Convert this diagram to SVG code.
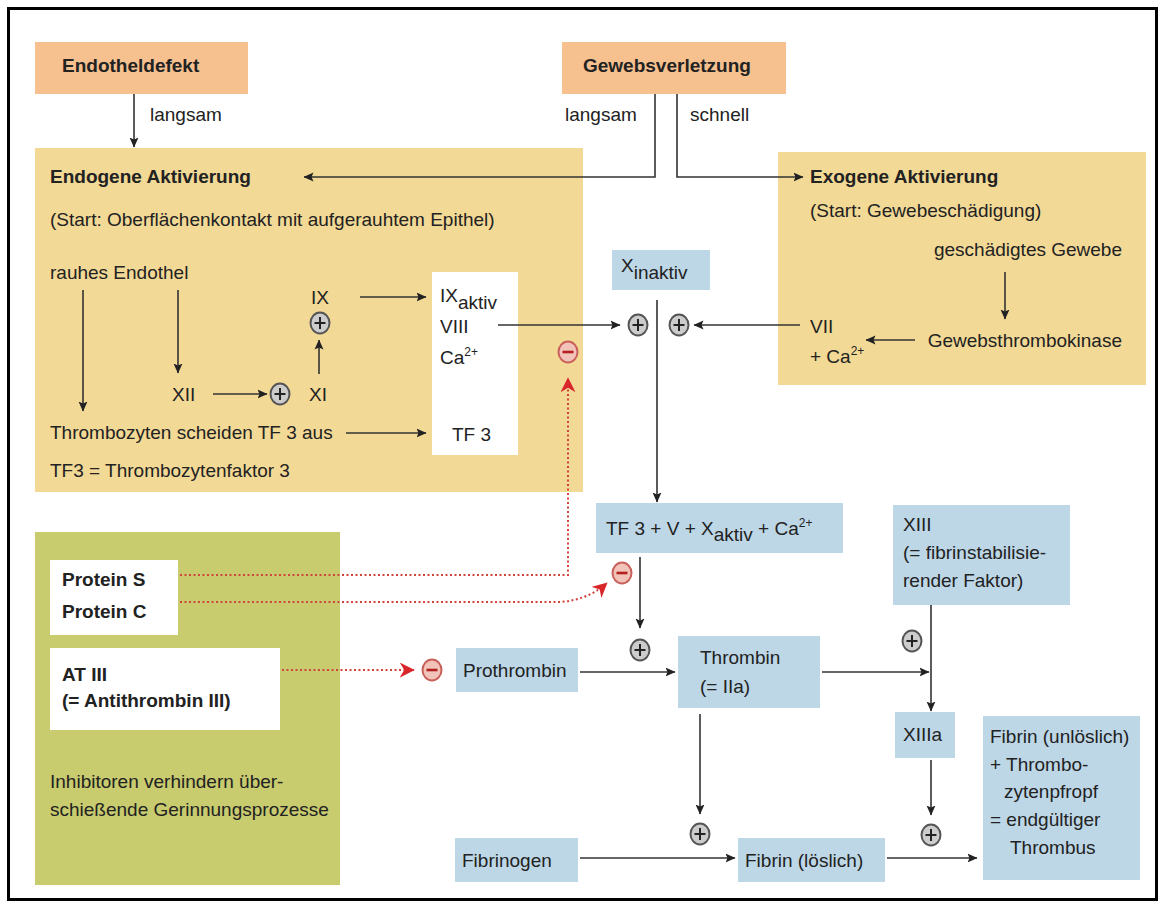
<svg xmlns="http://www.w3.org/2000/svg" width="1160" height="904" viewBox="0 0 1160 904">
<style>
text{font-family:"Liberation Sans",Arial,sans-serif;font-size:19px;fill:#222}
.b{font-weight:bold}
.peach{fill:#f6c08f}
.gold{fill:#f3d996}
.blue{fill:#bdd7e7}
.green{fill:#c8cb6e}
.white{fill:#ffffff}
.ln{stroke:#333;stroke-width:1.6;fill:none}
.red{stroke:#d2433c;stroke-width:2;fill:none;stroke-dasharray:2 2.5}
.pc{fill:#cccccc;stroke:#555;stroke-width:2}
.ps{stroke:#222;stroke-width:2}
.mc{fill:#f2c3b8;stroke:#c9605a;stroke-width:2}
.ms{stroke:#b3201f;stroke-width:2.6}
</style>
<defs>
<marker id="ah" viewBox="0 0 10 10" refX="9.5" refY="5" markerWidth="10" markerHeight="10" markerUnits="userSpaceOnUse" orient="auto">
<path d="M0,0.5 L10,5 L0,9.5 L2,5 z" fill="#222"/>
</marker>
<marker id="ahr" viewBox="0 0 10 10" refX="9.5" refY="5" markerWidth="15" markerHeight="15" markerUnits="userSpaceOnUse" orient="auto">
<path d="M0,0 L10,5 L0,10 L3,5 z" fill="#d9262a"/>
</marker>
<g id="plus"><ellipse rx="9.5" ry="10.5" class="pc"/><path d="M-5.5,0 H5.5 M0,-6 V6" class="ps"/></g>
<g id="minus"><ellipse rx="9.5" ry="10.5" class="mc"/><path d="M-5.5,0 H5.5" class="ms"/></g>
</defs>
<rect x="8.5" y="8.5" width="1148" height="891" fill="#fff" stroke="#000" stroke-width="3"/>

<g id="endotheldefekt"><rect x="35" y="42" width="213" height="52" class="peach"/><text x="62" y="72" class="b">Endotheldefekt</text></g>
<g id="gewebsverletzung"><rect x="562" y="42" width="224" height="52" class="peach"/><text x="583" y="72" class="b">Gewebsverletzung</text></g>

<g id="endogen">
<rect x="35" y="148" width="548" height="344" class="gold"/>
<text x="50" y="183" class="b">Endogene Aktivierung</text>
<text x="50" y="226">(Start: Oberflächenkontakt mit aufgerauhtem Epithel)</text>
<text x="50" y="279">rauhes Endothel</text>
<text x="311" y="304">IX</text>
<text x="172" y="401">XII</text>
<text x="309" y="401">XI</text>
<text x="50" y="439">Thrombozyten scheiden TF 3 aus</text>
<text x="50" y="477">TF3 = Thrombozytenfaktor 3</text>
</g>
<g id="factor-box">
<rect x="432" y="272" width="86" height="183" class="white"/>
<text x="440" y="302">IX<tspan dy="7">aktiv</tspan></text>
<text x="440" y="333">VIII</text>
<text x="440" y="364">Ca<tspan font-size="12" dy="-8">2+</tspan></text>
<text x="452" y="441">TF 3</text>
</g>

<g id="exogen">
<rect x="778" y="152" width="368" height="233" class="gold"/>
<text x="810" y="183" class="b">Exogene Aktivierung</text>
<text x="810" y="217">(Start: Gewebeschädigung)</text>
<text x="1122" y="256" text-anchor="end">geschädigtes Gewebe</text>
<text x="1122" y="347" text-anchor="end">Gewebsthrombokinase</text>
<text x="810" y="333">VII</text>
<text x="810" y="363">+ Ca<tspan font-size="12" dy="-8">2+</tspan></text>
</g>

<g id="x-inaktiv"><rect x="612" y="250" width="98" height="40" class="blue"/><text x="621" y="272">X<tspan dy="7">inaktiv</tspan></text></g>
<g id="tf3-komplex"><rect x="596" y="503" width="247" height="50" class="blue"/><text x="606" y="535">TF 3 + V + X<tspan dy="6">aktiv</tspan><tspan dy="-6"> + Ca</tspan><tspan font-size="12" dy="-8">2+</tspan></text></g>
<g id="xiii"><rect x="893" y="505" width="177" height="100" class="blue"/><text x="903" y="531">XIII</text><text x="903" y="559">(= fibrinstabilisie-</text><text x="903" y="587">render Faktor)</text></g>
<g id="prothrombin"><rect x="456" y="648" width="122" height="44" class="blue"/><text x="463" y="677">Prothrombin</text></g>
<g id="thrombin"><rect x="678" y="636" width="142" height="72" class="blue"/><text x="700" y="664">Thrombin</text><text x="700" y="693">(= IIa)</text></g>
<g id="xiiia"><rect x="895" y="712" width="60" height="46" class="blue"/><text x="903" y="741">XIIIa</text></g>
<g id="fibrin-unloeslich"><rect x="983" y="716" width="157" height="164" class="blue"/>
<text x="990" y="743">Fibrin (unlöslich)</text><text x="990" y="771">+ Thrombo-</text><text x="1004" y="798">zytenpfropf</text><text x="990" y="826">= endgültiger</text><text x="1010" y="854">Thrombus</text></g>
<g id="fibrinogen"><rect x="455" y="838" width="123" height="44" class="blue"/><text x="462" y="867">Fibrinogen</text></g>
<g id="fibrin-loeslich"><rect x="738" y="838" width="147" height="44" class="blue"/><text x="745" y="867">Fibrin (löslich)</text></g>

<g id="inhibitoren">
<rect x="35" y="532" width="305" height="353" class="green"/>
<rect x="50" y="560" width="128" height="75" class="white"/>
<text x="62" y="586" class="b">Protein S</text>
<text x="62" y="618" class="b">Protein C</text>
<rect x="50" y="648" width="230" height="82" class="white"/>
<text x="62" y="681" class="b">AT III</text>
<text x="62" y="707" class="b">(= Antithrombin III)</text>
<text x="50" y="788">Inhibitoren verhindern über-</text>
<text x="50" y="816">schießende Gerinnungsprozesse</text>
</g>

<g id="connectors">
<line x1="134" y1="94" x2="134" y2="147" class="ln" marker-end="url(#ah)"/>
<text x="150" y="121">langsam</text>
<text x="565" y="121">langsam</text>
<text x="690" y="121">schnell</text>
<polyline points="655,94 655,177 304,177" class="ln" marker-end="url(#ah)"/>
<polyline points="677,94 677,177 803,177" class="ln" marker-end="url(#ah)"/>
<line x1="83" y1="290" x2="83" y2="411" class="ln" marker-end="url(#ah)"/>
<line x1="178" y1="290" x2="178" y2="373" class="ln" marker-end="url(#ah)"/>
<line x1="213" y1="394" x2="267" y2="394" class="ln" marker-end="url(#ah)"/>
<line x1="319" y1="374" x2="319" y2="340" class="ln" marker-end="url(#ah)"/>
<line x1="360" y1="297" x2="426" y2="297" class="ln" marker-end="url(#ah)"/>
<line x1="346" y1="433" x2="426" y2="433" class="ln" marker-end="url(#ah)"/>
<line x1="498" y1="325" x2="620" y2="325" class="ln" marker-end="url(#ah)"/>
<line x1="657" y1="300" x2="657" y2="502" class="ln" marker-end="url(#ah)"/>
<line x1="800" y1="325" x2="694" y2="325" class="ln" marker-end="url(#ah)"/>
<line x1="1005" y1="272" x2="1005" y2="319" class="ln" marker-end="url(#ah)"/>
<line x1="915" y1="340" x2="866" y2="340" class="ln" marker-end="url(#ah)"/>
<line x1="640" y1="557" x2="640" y2="628" class="ln" marker-end="url(#ah)"/>
<line x1="580" y1="672" x2="675" y2="672" class="ln" marker-end="url(#ah)"/>
<line x1="822" y1="672" x2="929" y2="672" class="ln" marker-end="url(#ah)"/>
<line x1="931" y1="605" x2="931" y2="711" class="ln" marker-end="url(#ah)"/>
<line x1="700" y1="714" x2="700" y2="814" class="ln" marker-end="url(#ah)"/>
<line x1="931" y1="760" x2="931" y2="815" class="ln" marker-end="url(#ah)"/>
<line x1="580" y1="858" x2="735" y2="858" class="ln" marker-end="url(#ah)"/>
<line x1="887" y1="858" x2="977" y2="858" class="ln" marker-end="url(#ah)"/>
<polyline points="180,575 568,575 568,378" class="red" marker-end="url(#ahr)"/>
<path d="M180,602 L560,602 Q588,600 607,583" class="red" marker-end="url(#ahr)"/>
<line x1="282" y1="670" x2="414" y2="670" class="red" marker-end="url(#ahr)"/>
<use href="#plus" x="320" y="323"/>
<use href="#plus" x="280" y="394"/>
<use href="#plus" x="638" y="325"/>
<use href="#plus" x="679" y="325"/>
<use href="#plus" x="640" y="650"/>
<use href="#plus" x="912" y="641"/>
<use href="#plus" x="700" y="834"/>
<use href="#plus" x="931" y="835"/>
<use href="#minus" x="568" y="352"/>
<use href="#minus" x="622" y="573"/>
<use href="#minus" x="432" y="670"/>
</g>
</svg>
